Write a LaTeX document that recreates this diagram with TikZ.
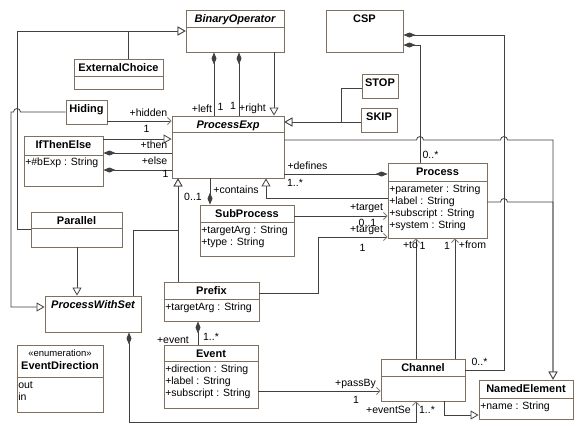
\documentclass[tikz,border=0pt]{standalone}
\usepackage{fontspec}
\setmainfont{Liberation Sans}
\usepackage{tikz}
\usetikzlibrary{arrows.meta, positioning, fit}
\definecolor{boxcol}{RGB}{128,112,96}
\definecolor{linecol}{RGB}{64,64,64}
\definecolor{tipcol}{RGB}{128,128,128}

\begin{document}
\begin{tikzpicture}[x=1pt, y=-1pt]
\tikzstyle{cls}=[draw=boxcol, fill=white, line width=0.9pt, inner sep=0pt]
\tikzstyle{divline}=[draw=boxcol, line width=0.9pt]
\tikzstyle{ttl}=[font=\fontsize{11}{13}\selectfont\bfseries, inner sep=0pt, anchor=north]
\tikzstyle{attr}=[font=\fontsize{10.5}{12}\selectfont, inner sep=1.5pt, anchor=north west, align=left]
\tikzstyle{lbl}=[font=\fontsize{10.5}{12}\selectfont, inner sep=0pt, text height=7.6pt, text depth=0pt]
\tikzstyle{link}=[draw=linecol, line width=0.8pt]
\tikzstyle{gen}=[link, -{Triangle[open, fill=white, length=8pt, width=9pt]}]
\tikzstyle{nav}=[link, -{Straight Barb[length=3.5pt, width=7pt, color=tipcol]}]
\tikzstyle{comp}=[link, {Diamond[length=12pt, width=5pt]}-]
\tikzstyle{tocomp}=[link, -{Diamond[length=12pt, width=5pt]}]
\tikzstyle{compnav}=[link, {Diamond[length=12pt, width=5pt]}-{Straight Barb[length=3.5pt, width=7pt, color=tipcol]}]

\fill[white] (0,0) rectangle (582,432);
\useasboundingbox (0,0) rectangle (582,432);

% classes
\node[cls, fit={(186,10) (284,52)}] (binop) {};
\node[ttl, below=5pt of binop.north] (binop-t) {\itshape BinaryOperator};
\draw[divline] ([yshift=-18pt]binop.north west) -- ([yshift=-18pt]binop.north east);

\node[cls, fit={(74,59) (163,89)}] (extc) {};
\node[ttl, below=5pt of extc.north] (extc-t) {ExternalChoice};
\draw[divline] ([yshift=-18pt]extc.north west) -- ([yshift=-18pt]extc.north east);

\node[cls, fit={(326,10) (403,52)}] (csp) {};
\node[ttl, below=5pt of csp.north] (csp-t) {CSP};

\node[cls, fit={(362,74) (398,98)}] (stop) {};
\node[ttl, below=5pt of stop.north] (stop-t) {STOP};

\node[cls, fit={(361,108) (397,132)}] (skip) {};
\node[ttl, below=5pt of skip.north] (skip-t) {SKIP};

\node[cls, fit={(66,100) (107,124)}] (hiding) {};
\node[ttl, below=5pt of hiding.north] (hiding-t) {Hiding};

\node[cls, fit={(172,116) (284,178)}] (pexp) {};
\node[ttl, below=5pt of pexp.north] (pexp-t) {\itshape ProcessExp};
\draw[divline] ([yshift=-17pt]pexp.north west) -- ([yshift=-17pt]pexp.north east);

\node[cls, fit={(24,136) (103,186)}] (ite) {};
\node[ttl, below=5pt of ite.north] (ite-t) {IfThenElse};
\draw[divline] ([yshift=-20pt]ite.north west) -- ([yshift=-20pt]ite.north east);
\node[attr] (ite-a) at ([yshift=-21pt]ite.north west) {+\#bExp : String};

\node[cls, fit={(388,163) (487,238)}] (proc) {};
\node[ttl, below=5pt of proc.north] (proc-t) {Process};
\draw[divline] ([yshift=-19pt]proc.north west) -- ([yshift=-19pt]proc.north east);
\node[attr] (proc-a) at ([yshift=-21pt]proc.north west) {+parameter : String\\+label : String\\+subscript : String\\+system : String};

\node[cls, fit={(200,205) (294,256)}] (subp) {};
\node[ttl, below=5pt of subp.north] (subp-t) {SubProcess};
\draw[divline] ([yshift=-18pt]subp.north west) -- ([yshift=-18pt]subp.north east);
\node[attr] (subp-a) at ([yshift=-20pt]subp.north west) {+targetArg : String\\+type : String};

\node[cls, fit={(31,212) (122,247)}] (par) {};
\node[ttl, below=5pt of par.north] (par-t) {Parallel};
\draw[divline] ([yshift=-17pt]par.north west) -- ([yshift=-17pt]par.north east);

\node[cls, fit={(45,296) (141,332)}] (pws) {};
\node[ttl, below=5pt of pws.north] (pws-t) {\itshape ProcessWithSet};

\node[cls, fit={(164,282) (259,321)}] (prefix) {};
\node[ttl, below=5pt of prefix.north] (prefix-t) {Prefix};
\draw[divline] ([yshift=-18pt]prefix.north west) -- ([yshift=-18pt]prefix.north east);
\node[attr] (prefix-a) at ([yshift=-20pt]prefix.north west) {+targetArg : String};

\node[cls, fit={(164,345) (258,408)}] (event) {};
\node[ttl, below=5pt of event.north] (event-t) {Event};
\draw[divline] ([yshift=-17pt]event.north west) -- ([yshift=-17pt]event.north east);
\node[attr] (event-a) at ([yshift=-19pt]event.north west) {+direction : String\\+label : String\\+subscript : String};

\node[cls, fit={(17,345) (103,412)}] (evdir) {};
\node[ttl, below=5pt of evdir.north] (evdir-s) {\normalfont\fontsize{9.5}{11}\selectfont «enumeration»};
\node[ttl, below=4pt of evdir-s] (evdir-t) {EventDirection};
\draw[divline] ([yshift=-33pt]evdir.north west) -- ([yshift=-33pt]evdir.north east);
\node[attr] (evdir-a) at ([yshift=-35pt]evdir.north west) {out\\in};

\node[cls, fit={(381,359) (465,401)}] (chan) {};
\node[ttl, below=5pt of chan.north] (chan-t) {Channel};
\draw[divline] ([yshift=-18pt]chan.north west) -- ([yshift=-18pt]chan.north east);

\node[cls, fit={(479,380) (573,419)}] (named) {};
\node[ttl, below=5pt of named.north] (named-t) {NamedElement};
\draw[divline] ([yshift=-19pt]named.north west) -- ([yshift=-19pt]named.north east);
\node[attr] (named-a) at ([yshift=-21pt]named.north west) {+name : String};

% generalizations
\draw[gen] (274,0 |- binop.south) -- (274,0 |- pexp.north);
\draw[gen] (128,0 |- extc.north) |- (binop.west);
\draw[gen] (par.west) -| (17,31) -- (binop.west);
\draw[gen] (hiding.west) -- (20.5,112) arc (0:180:3.5pt) -- (11,112) |- ([yshift=7pt]pws.west);
\draw[gen] (ite.east |- 0,139) -- (pexp.west |- 0,139);
\draw[gen] (skip.west |- 0,122) -- (pexp.east |- 0,122);
\draw[gen] (stop.west |- 0,88) -| (341,122) -- (pexp.east |- 0,122);
\draw[gen] (pexp.east |- 0,140) -- (416.5,140) arc (180:0:3.5pt) -- (500.5,140) arc (180:0:3.5pt) -| (553,0 |- named.north);
\draw[gen] (proc.east |- 0,202) -- (500.5,202) arc (180:0:3.5pt) -| (553,0 |- named.north);
\draw[gen] (proc.west |- 0,198) -| (266,0 |- pexp.south);
\draw[gen] (178,0 |- prefix.north) -- (178,0 |- pexp.south);
\draw[gen] (133,0 |- pws.north) |- (178,230) -- (178,0 |- pexp.south);
\draw[gen] (77,0 |- par.south) -- (77,0 |- pws.north);
\draw[gen] (444,0 |- chan.south) |- (named.west |- 0,415);

% compositions
\draw[comp] (214,0 |- binop.south) -- (214,0 |- pexp.north);
\draw[comp] (239,0 |- binop.south) -- (239,0 |- pexp.north);
\draw[comp] (ite.east |- 0,153) -- (pexp.west |- 0,153);
\draw[comp] (ite.east |- 0,170) -- (pexp.west |- 0,170);
\draw[tocomp] (pexp.east |- 0,174) -- (proc.west |- 0,174);
\draw[comp] (csp.east |- 0,35) -| (504,370) -- (chan.east |- 0,370);
\draw[comp] (csp.east |- 0,45) -| (420,0 |- proc.north);
\draw[comp] (210,0 |- subp.north) -- (210,0 |- pexp.south);
\draw[comp] (198,0 |- prefix.south) -- (198,0 |- event.north);
\draw[compnav] (129,0 |- pws.south) |- (416,422) -- (416,0 |- chan.south);

% navigable ends
\draw[nav] (hiding.east |- 0,121) -- (pexp.west |- 0,121);
\draw[nav] (subp.east |- 0,216) -- (proc.west |- 0,216);
\draw[nav] (prefix.east |- 0,293) -| (318,237) -- (proc.west |- 0,237);
\draw[nav] (416,0 |- chan.north) -- (416,0 |- proc.south);
\draw[nav] (455,0 |- chan.north) -- (455,0 |- proc.south);
\draw[nav] (event.east |- 0,391) -- (chan.west |- 0,391);

% roles and multiplicities
\node[lbl] (l-hid) at (148.5,112.5) {+hidden};
\node[lbl] (m-hid) at (146.5,129) {1};
\node[lbl] (l-then) at (154,144.5) {+then};
\node[lbl] (l-else) at (154.5,161) {+else};
\node[lbl] (m-else) at (165.5,174) {1};
\node[lbl] (l-left) at (202,109) {+left};
\node[lbl] (m-left) at (220.5,107) {1};
\node[lbl] (m-right) at (233,105.5) {1};
\node[lbl] (l-right) at (252.5,107.5) {+right};
\node[lbl] (l-def) at (307.5,165.5) {+defines};
\node[lbl] (m-def) at (295,183) {1..*};
\node[lbl] (m-cspp) at (430.5,154.5) {0..*};
\node[lbl] (l-cont) at (236,190) {+contains};
\node[lbl] (m-cont) at (193,197) {0..1};
\node[lbl] (l-tsub) at (366.5,207) {+target};
\node[lbl] (m-tsub) at (367.5,223) {0..1};
\node[lbl] (l-tpre) at (366.5,229) {+target};
\node[lbl] (m-tpre) at (362.5,247.5) {1};
\node[lbl] (l-to) at (410.5,244.5) {+to};
\node[lbl] (m-to) at (422.5,246) {1};
\node[lbl] (m-from) at (447,246) {1};
\node[lbl] (l-from) at (472.5,244.5) {+from};
\node[lbl] (l-ev) at (173,339.5) {+event};
\node[lbl] (m-ev) at (211,336.5) {1..*};
\node[lbl] (l-pass) at (355.5,382.5) {+passBy};
\node[lbl] (m-pass) at (356,400) {1};
\node[lbl] (l-es) at (388.5,410) {+eventSe};
\node[lbl] (m-es) at (427,409.5) {1..*};
\node[lbl] (m-cspc) at (479.5,362) {0..*};
\end{tikzpicture}
\end{document}
